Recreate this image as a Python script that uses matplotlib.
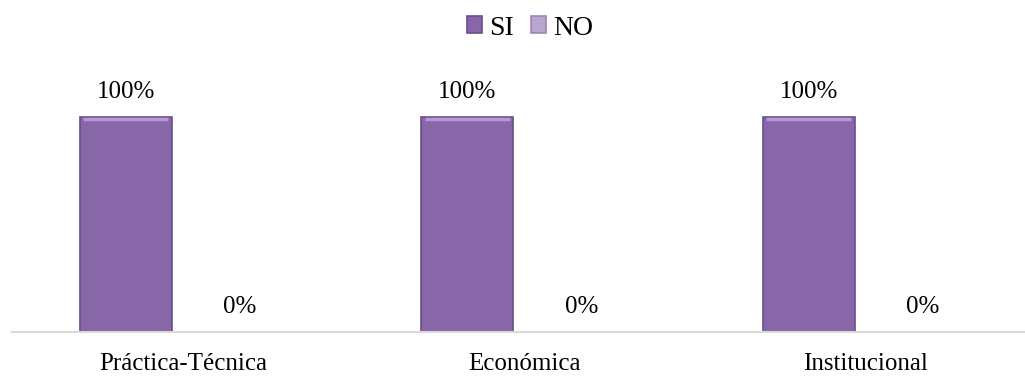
import matplotlib.pyplot as plt
import numpy as np

categorias = ['Práctica-Técnica', 'Económica', 'Institucional']
si = [1.0, 1.0, 1.0]
no = [0.0, 0.0, 0.0]

plt.rcParams['font.family'] = ['Liberation Serif', 'DejaVu Serif']

fig = plt.figure(figsize=(10.25, 3.77), dpi=100)
ax = fig.add_axes([0.0117, 0.12, 0.9995, 0.685])

x = np.arange(len(categorias))
w = 0.269
off = 0.167

b1 = ax.bar(x - off, si, w, color='#8767A8', edgecolor='#6A4E8A', linewidth=1.2, label='SI')
b2 = ax.bar(x + off, no, w, color='#B9A6D0', edgecolor='#9A86B4', linewidth=1.2, label='NO')

# bevel highlight on the top of each bar
for r in b1:
    ax.plot([r.get_x() + 0.01, r.get_x() + r.get_width() - 0.01],
            [r.get_height() - 0.012] * 2, color='#B799D6', lw=2.5, solid_capstyle='butt')

for xi, v in zip(x - off, si):
    ax.text(xi, v + 0.065, '{:.0%}'.format(v), ha='center', va='bottom', fontsize=18)
for xi, v in zip(x + off, no):
    ax.text(xi, v + 0.065, '{:.0%}'.format(v), ha='center', va='bottom', fontsize=18)

ax.set_xlim(-0.5, 2.5)
ax.set_ylim(0, 1.2)
ax.set_xticks(x)
ax.set_xticklabels(categorias, fontsize=18)
ax.tick_params(axis='x', length=0, pad=15)
ax.set_yticks([])
for s in ['top', 'right', 'left']:
    ax.spines[s].set_visible(False)
ax.spines['bottom'].set_color('#D9D9D9')
ax.spines['bottom'].set_linewidth(1.5)

fig.legend(handles=[b1, b2], loc='upper center', bbox_to_anchor=(0.517, 1.025), ncol=2,
           frameon=False, fontsize=20, handlelength=0.55, handleheight=0.55,
           handletextpad=0.25, columnspacing=0.6)

fig.savefig('out.png', dpi=100)
